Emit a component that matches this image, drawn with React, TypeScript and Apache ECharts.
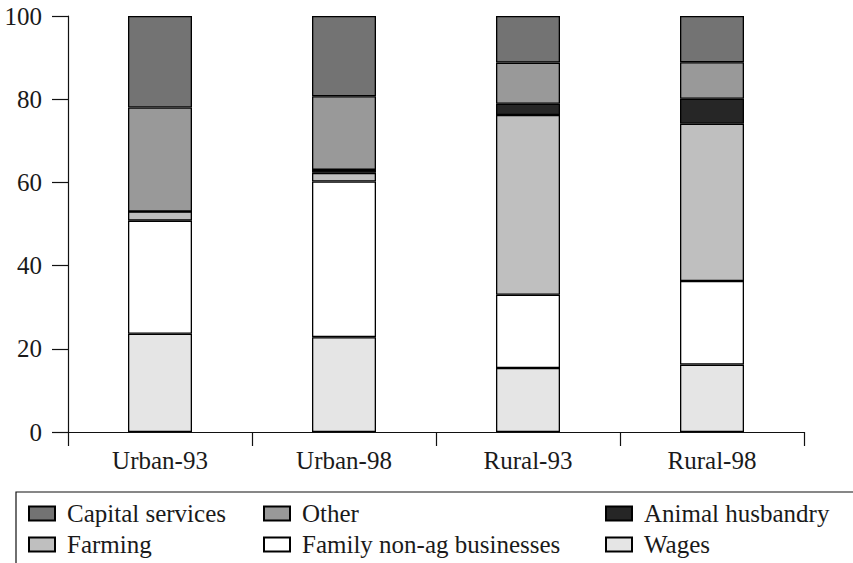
import React, { useEffect, useRef } from "react";
import * as echarts from "echarts";

const categories = ["Urban-93", "Urban-98", "Rural-93", "Rural-98"];
const wages = [23.6, 22.8, 15.4, 16.2];
const family = [27.2, 37.4, 17.6, 20.1];
const farming = [2.2, 2.1, 43.2, 37.8];
const animal = [0, 0.7, 2.7, 6.0];
const other = [25.0, 17.7, 9.9, 8.8];
const capital = [22.0, 19.3, 11.2, 11.1];
const yTicks = { min: 0, max: 100, interval: 20 };

const FONT = "'Liberation Serif', 'DejaVu Serif', serif";
const FS = 25;

export default function App() {
  const ref = useRef<HTMLDivElement>(null);
  useEffect(() => {
    if (!ref.current) return;
    const chart = echarts.init(ref.current, undefined, { renderer: "svg" });
    const mk = (name: string, data: number[], color: string) => ({
      name,
      type: "bar",
      stack: "total",
      data,
      barWidth: 64,
      itemStyle: { color, borderColor: "#000", borderWidth: 1.3 },
    });
    const legendBase = {
      orient: "vertical",
      top: 501,
      padding: 0,
      itemGap: 6,
      itemWidth: 26,
      itemHeight: 14,
      icon: "rect",
      selectedMode: false,
      textStyle: {
        fontFamily: FONT,
        fontSize: FS,
        lineHeight: 24,
        color: "#1a1a1a",
        padding: [0, 0, 0, 7],
      },
    };
    chart.setOption({
      animation: false,
      backgroundColor: "#ffffff",
      grid: { left: 68, right: 49, top: 16, bottom: 131, containLabel: false },
      xAxis: {
        type: "category",
        data: categories,
        axisLine: { lineStyle: { color: "#111", width: 1.2 } },
        axisTick: { show: true, length: 14, alignWithLabel: false, lineStyle: { color: "#111", width: 1.2 } },
        axisLabel: { fontFamily: FONT, fontSize: FS, color: "#1a1a1a", margin: 16 },
      },
      yAxis: {
        type: "value",
        min: yTicks.min,
        max: yTicks.max,
        interval: yTicks.interval,
        axisLine: { show: true, lineStyle: { color: "#111", width: 1.2 } },
        axisTick: { show: true, inside: false, length: 16, lineStyle: { color: "#111", width: 1.2 } },
        splitLine: { show: false },
        axisLabel: { fontFamily: FONT, fontSize: FS, color: "#1a1a1a", margin: 26 },
      },
      legend: [
        { ...legendBase, left: 28, data: ["Capital services", "Farming"] },
        { ...legendBase, left: 263, data: ["Other", "Family non-ag businesses"] },
        { ...legendBase, left: 605, data: ["Animal husbandry", "Wages"] },
      ],
      graphic: [
        {
          type: "rect",
          shape: { x: 16, y: 492, width: 900, height: 100 },
          style: { fill: "none", stroke: "#111", lineWidth: 1.2 },
          silent: true,
        },
      ],
      series: [
        mk("Wages", wages, "#e5e5e5"),
        mk("Family non-ag businesses", family, "#ffffff"),
        mk("Farming", farming, "#bfbfbf"),
        mk("Animal husbandry", animal, "#262626"),
        mk("Other", other, "#999999"),
        mk("Capital services", capital, "#737373"),
      ],
    });
    return () => chart.dispose();
  }, []);
  return (
    <div
      ref={ref}
      style={{ position: "fixed", left: 0, top: 0, width: 853, height: 563, background: "#fff" }}
    />
  );
}
